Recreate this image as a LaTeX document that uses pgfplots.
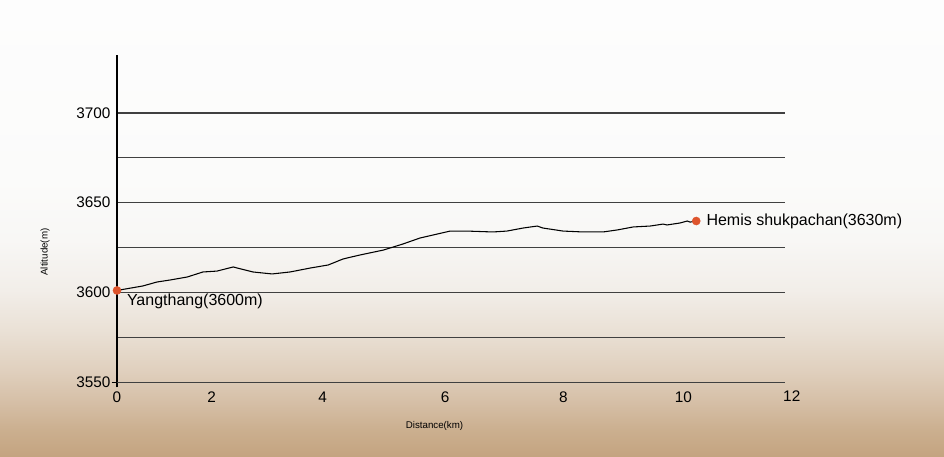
\documentclass[border=0pt]{standalone}
\usepackage{fontspec}
\setmainfont{Liberation Sans}
\usepackage{pgfplots}
\pgfplotsset{compat=1.18}

% paper-like background, white on top, tan at the bottom
\definecolor{bgA}{RGB}{196,164,128}
\definecolor{bgB}{RGB}{203,175,143}
\definecolor{bgC}{RGB}{214,192,168}
\definecolor{bgD}{RGB}{224,208,190}
\definecolor{bgE}{RGB}{234,225,214}
\definecolor{bgF}{RGB}{242,238,233}
\definecolor{bgG}{RGB}{248,247,245}
\definecolor{bgH}{RGB}{251,251,250}
\definecolor{bgI}{RGB}{253,253,253}
\definecolor{dotred}{RGB}{222,84,44}
\pgfdeclareverticalshading{paper}{100bp}{color(0bp)=(bgA); color(25bp)=(bgA);
  color(27.85bp)=(bgB); color(31.14bp)=(bgC); color(34.43bp)=(bgD);
  color(38.82bp)=(bgE); color(43.2bp)=(bgF); color(48.68bp)=(bgG);
  color(55.26bp)=(bgH); color(75bp)=(bgI); color(100bp)=(bgI)}

\pgfplotstableread{
x y
0    3601.1
0.46 3603.6
0.71 3605.8
0.94 3606.9
1.25 3608.6
1.53 3611.4
1.78 3611.9
2.07 3614.2
2.14 3613.6
2.42 3611.4
2.76 3610.3
3.08 3611.4
3.44 3613.6
3.76 3615.3
4.02 3618.6
4.15 3619.6
4.33 3620.9
4.74 3623.6
5.09 3627.0
5.39 3630.3
5.93 3634.2
6.23 3634.2
6.69 3633.7
6.94 3634.2
7.23 3635.9
7.48 3637.0
7.58 3635.9
7.94 3634.2
8.30 3633.7
8.65 3633.7
8.90 3634.8
9.19 3636.5
9.49 3637.0
9.72 3638.1
9.79 3637.6
10.02 3638.7
10.15 3639.8
10.20 3639.2
10.31 3639.8
}\profile

\begin{document}
\begin{tikzpicture}
\useasboundingbox (0,0) rectangle (708pt,342pt);
\shade[shading=paper] (0,0) rectangle (708pt,342pt);
\begin{axis}[
  at={(87.75pt,55.4pt)}, anchor=south west,
  scale only axis, width=501pt, height=245.3pt,
  xmin=0, xmax=11.89, ymin=3550, ymax=3732.3,
  axis lines=left, axis line style={-, black, line width=0.9pt},
  xtick={0,1.686,3.662,5.84,7.946,10.08},
  xticklabels={0,2,4,6,8,10},
  ytick={3550,3600,3650,3700},
  minor ytick={3575,3625,3675},
  ymajorgrids, yminorgrids,
  major grid style={black!75, line width=0.8pt},
  minor grid style={black!75, line width=0.8pt},
  major tick length=0pt, minor tick length=0pt,
  extra y ticks={3550}, extra y tick labels={},
  extra x ticks={0}, extra x tick labels={},
  extra tick style={major tick length=4pt, tick align=outside,
    tick style={black, line width=0.8pt}},
  /pgf/number format/assume math mode=true,
  ticklabel style={font=\fontsize{11.5}{13}\selectfont},
  xticklabel style={yshift=-4pt},
  yticklabel style={xshift=-1.4pt},
  yticklabel={\pgfmathprintnumber[1000 sep={}]{\tick}},
  xlabel={Distance(km)}, ylabel={Altitude(m)},
  label style={font=\fontsize{7.3}{8}\selectfont},
  xlabel style={at={(axis description cs:0.4753,-0.1342)}, anchor=center},
  ylabel style={at={(axis description cs:-0.1078,0.3977)}, anchor=center, rotate=0},
  clip=false,
]
\addplot[black, line width=0.8pt] table[x=x, y=y] {\profile};
\addplot[only marks, mark=*, mark size=3pt, color=dotred] coordinates {(0,3601.1) (10.31,3639.8)};
\node[anchor=west, inner sep=0, font=\fontsize{12}{14}\selectfont, xshift=7.3pt, yshift=-8.4pt]
  at (axis cs:0,3601.1) {Yangthang(3600m)};
\node[anchor=west, inner sep=0, font=\fontsize{12}{14}\selectfont, xshift=7.5pt]
  at (axis cs:10.31,3639.8) {Hemis shukpachan(3630m)};
\node[anchor=north, font=\fontsize{11.5}{13}\selectfont, yshift=-2.8pt]
  at (axis cs:12.01,3550) {12};
\end{axis}
\end{tikzpicture}
\end{document}
